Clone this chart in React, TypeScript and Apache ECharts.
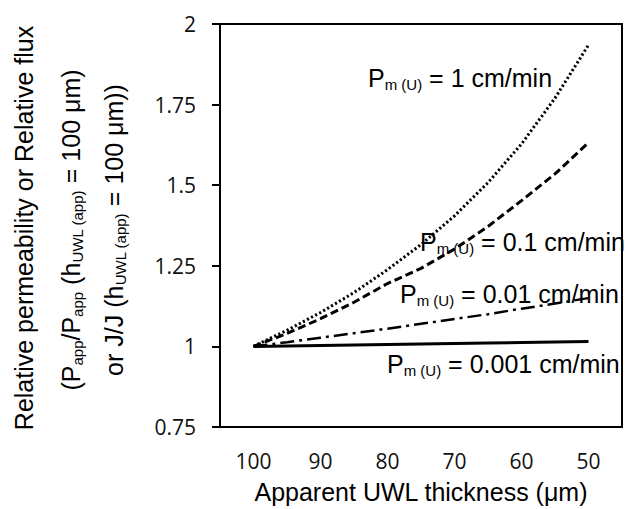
import React, { useEffect, useRef } from "react";
import * as echarts from "echarts";

// Apparent UWL thickness (µm)
const thickness = [100, 95, 90, 85, 80, 75, 70, 65, 60, 55, 50];
// Relative permeability for each P_m(U)
const pm1 = [1, 1.05, 1.105, 1.167, 1.238, 1.316, 1.405, 1.508, 1.628, 1.77, 1.935];
const pm01 = [1, 1.04, 1.086, 1.137, 1.195, 1.242, 1.302, 1.372, 1.452, 1.535, 1.632];
const pm001 = [1, 1.013, 1.027, 1.041, 1.055, 1.07, 1.085, 1.1, 1.117, 1.133, 1.15];
const pm0001 = [1, 1.0015, 1.003, 1.0045, 1.006, 1.0075, 1.009, 1.0105, 1.012, 1.0135, 1.015];

const seriesLabels = ["1", "0.1", "0.01", "0.001"];
const xTitle = "Apparent UWL thickness (μm)";
const yTitle1 = "Relative permeability or Relative flux";
const yTitle2 = "{m|(P}{s|app}{m|/P}{s|app}{m| (h}{s|UWL (app)}{m| = 100 μm)}";
const yTitle3 = "{m|or J/J (h}{s|UWL (app)}{m| = 100 μm))}";

const SANS = "'Liberation Sans', Arial, sans-serif";
const NUM = "'Open Sans', sans-serif";

const pairs = (vals: number[]) => thickness.map((t, i) => [t, vals[i]]);

const richStyles = {
  m: { fontSize: 25, fontFamily: SANS, fill: "#000", lineHeight: 30 },
  s: { fontSize: 15, fontFamily: SANS, fill: "#000", lineHeight: 15, padding: [12, 0, 0, 0] },
};

const pmLabel = (v: string) => `{m|P}{s|m (U)}{m| = ${v} cm/min}`;

export default function App() {
  const ref = useRef<HTMLDivElement>(null);
  useEffect(() => {
    if (!ref.current) return;
    const chart = echarts.init(ref.current, undefined, { renderer: "svg" });
    const lineStyles: any[] = [
      { width: 3, type: [2.2, 2.4] },
      { width: 3, type: [8, 4] },
      { width: 2.5, type: [14, 5, 3, 5] },
      { width: 3, type: "solid" },
    ];
    const data = [pm1, pm01, pm001, pm0001];
    const labelPos = [
      [368, 78],
      [420, 242],
      [400, 294],
      [387, 364],
    ];
    chart.setOption({
      animation: false,
      grid: {
        left: 220,
        top: 24,
        right: -3,
        bottom: 81,
        show: true,
        borderColor: "#000",
        borderWidth: 2,
        backgroundColor: "transparent",
      },
      xAxis: {
        type: "value",
        inverse: true,
        min: 45,
        max: 105,
        interval: 5,
        axisLine: { show: true, lineStyle: { color: "#000", width: 2 } },
        axisTick: { show: false },
        splitLine: { show: false },
        axisLabel: {
          formatter: (v: number) => (v % 10 === 0 ? String(v) : ""),
          fontSize: 21,
          fontFamily: NUM,
          color: "#111",
          margin: 23,
        },
        name: xTitle,
        nameLocation: "middle",
        nameGap: 52,
        nameTextStyle: { fontSize: 25, fontFamily: SANS, color: "#000" },
      },
      yAxis: {
        type: "value",
        min: 0.75,
        max: 2,
        interval: 0.25,
        axisLine: { show: true, lineStyle: { color: "#000", width: 2 } },
        axisTick: { show: true, inside: false, length: 8, lineStyle: { color: "#000", width: 2 } },
        splitLine: { show: false },
        axisLabel: { fontSize: 21, fontFamily: NUM, color: "#111", margin: 24 },
      },
      series: data.map((vals, i) => ({
        type: "line",
        name: seriesLabels[i],
        data: pairs(vals),
        showSymbol: false,
        symbol: "none",
        lineStyle: { color: "#000", ...lineStyles[i], cap: "butt" },
        z: 3,
      })),
      graphic: [
        ...seriesLabels.map((v, i) => ({
          type: "text",
          x: labelPos[i][0],
          y: labelPos[i][1],
          z: 10,
          style: {
            text: pmLabel(v),
            rich: richStyles,
            align: "left",
            verticalAlign: "middle",
          },
        })),
        {
          type: "text",
          x: 24,
          y: 228,
          rotation: Math.PI / 2,
          style: {
            text: yTitle1,
            fontSize: 25,
            fontFamily: SANS,
            fill: "#000",
            align: "center",
            verticalAlign: "middle",
          },
        },
        {
          type: "text",
          x: 71,
          y: 230,
          rotation: Math.PI / 2,
          style: { text: yTitle2, rich: richStyles, align: "center", verticalAlign: "middle" },
        },
        {
          type: "text",
          x: 114,
          y: 230,
          rotation: Math.PI / 2,
          style: { text: yTitle3, rich: richStyles, align: "center", verticalAlign: "middle" },
        },
      ],
    });
    return () => chart.dispose();
  }, []);
  return (
    <div
      ref={ref}
      style={{ position: "fixed", left: 0, top: 0, width: 625, height: 509, background: "#fff" }}
    />
  );
}
